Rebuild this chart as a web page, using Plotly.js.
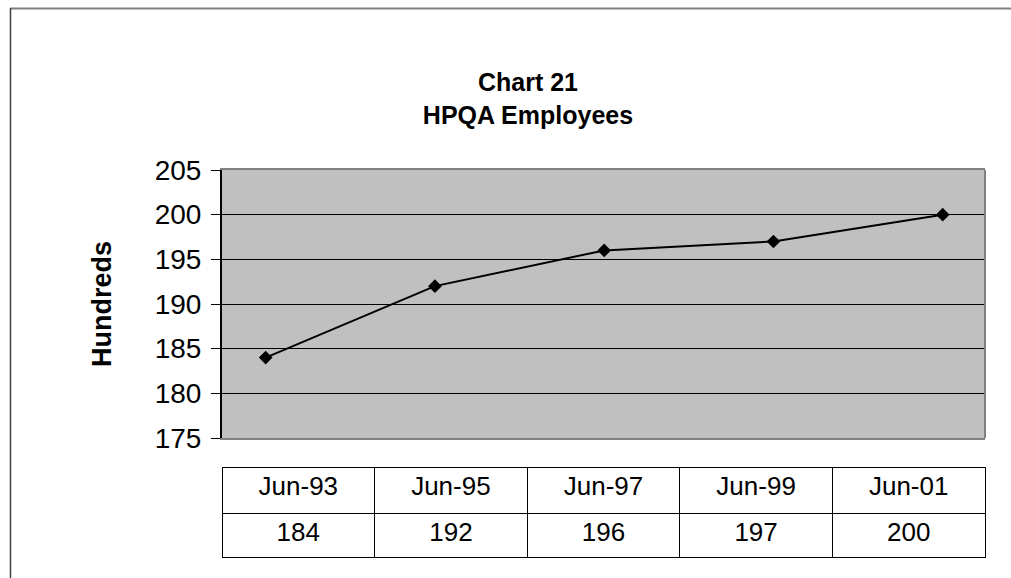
<!DOCTYPE html>
<html>
<head>
<meta charset="utf-8">
<script src="https://cdn.plot.ly/plotly-3.0.1.min.js"></script>
<style>
html,body{margin:0;padding:0;background:#fff;}
#chart{width:1011px;height:578px;}
</style>
</head>
<body>
<div id="chart"></div>
<script>
const categories = ["Jun-93", "Jun-95", "Jun-97", "Jun-99", "Jun-01"];
const employees = [184, 192, 196, 197, 200];
const yTicks = [175, 180, 185, 190, 195, 200, 205];

const FONT = "Liberation Sans, Arial, sans-serif";
// plot area (margins) in page pixels
const L = 222, R = 985, T = 170, B = 558;
const W = R - L, H = B - T;
const px = x => (x - L) / W;
const py = y => (B - y) / H;

const line = {
  type: "scatter",
  mode: "lines+markers",
  x: categories,
  y: employees,
  xaxis: "x",
  yaxis: "y",
  line: {color: "#000000", width: 2},
  marker: {symbol: "diamond", size: 10.5, color: "#000000"},
  hoverinfo: "x+y",
  showlegend: false
};

const table = {
  type: "table",
  domain: {x: [0, 1], y: [0, py(467)]},
  columnwidth: categories.map(() => 1),
  header: {
    values: categories,
    align: "center",
    height: 46,
    fill: {color: "#ffffff"},
    line: {color: "#000000", width: 1},
    font: {family: FONT, size: 26, color: "#000000"}
  },
  cells: {
    values: employees.map(v => [String(v)]),
    align: "center",
    height: 44,
    fill: {color: "#ffffff"},
    line: {color: "#000000", width: 1},
    font: {family: FONT, size: 26, color: "#000000"}
  }
};

const layout = {
  width: 1011,
  height: 578,
  margin: {l: L, r: 1011 - R, t: T, b: 578 - B, pad: 0},
  paper_bgcolor: "#ffffff",
  plot_bgcolor: "#c0c0c0",
  font: {family: FONT, color: "#000000"},
  title: {
    text: "<b>Chart 21<br>HPQA Employees</b>",
    font: {family: FONT, size: 25, color: "#000000"},
    xref: "container",
    x: 528 / 1011,
    xanchor: "center",
    yref: "container",
    y: 1 - 91 / 578,
    yanchor: "top"
  },
  xaxis: {
    type: "category",
    range: [-0.258, 4.25],
    showticklabels: false,
    ticks: "",
    showgrid: false,
    zeroline: false,
    showline: true,
    linecolor: "#808080",
    linewidth: 2,
    mirror: true,
    anchor: "y",
    fixedrange: true
  },
  yaxis: {
    domain: [py(438), 1],
    range: [175, 205],
    tickvals: yTicks,
    ticktext: yTicks.map(String),
    ticks: "outside",
    ticklen: 9,
    tickwidth: 1,
    tickcolor: "#000000",
    ticklabelstandoff: 4,
    tickfont: {family: FONT, size: 28, color: "#000000"},
    showgrid: true,
    gridcolor: "#000000",
    gridwidth: 1,
    zeroline: false,
    showline: true,
    linecolor: "#000000",
    linewidth: 2,
    title: {
      text: "<b>Hundreds</b>",
      font: {family: FONT, size: 27, color: "#000000"},
      standoff: 35
    },
    fixedrange: true
  },
  shapes: [
    {type: "line", xref: "x domain", yref: "y domain", x0: 1, x1: 1, y0: 0, y1: 1,
     line: {color: "#808080", width: 2}},
    {type: "line", xref: "paper", yref: "paper",
     x0: px(10), x1: px(1011), y0: py(8.5), y1: py(8.5),
     line: {color: "#808080", width: 2}},
    {type: "line", xref: "paper", yref: "paper",
     x0: px(10.5), x1: px(10.5), y0: py(8), y1: py(580),
     line: {color: "#404040", width: 1.5}}
  ],
  showlegend: false
};

Plotly.newPlot("chart", [line, table], layout, {displayModeBar: false, staticPlot: true});
</script>
</body>
</html>
